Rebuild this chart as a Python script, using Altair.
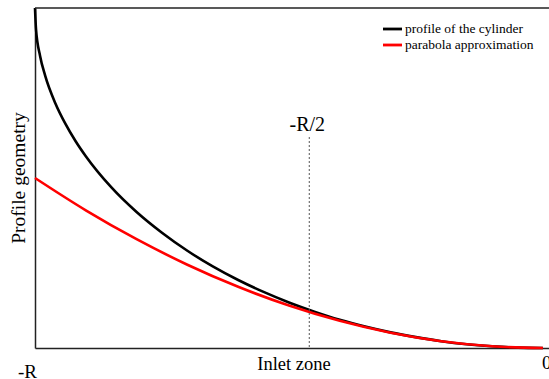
import altair as alt
import pandas as pd

# Profile of the cylinder (height above the lowest point, in units of R)
cyl_x = [-1.000, -0.998, -0.990, -0.980, -0.960, -0.940, -0.920, -0.900, -0.850,
         -0.800, -0.750, -0.700, -0.650, -0.600, -0.550, -0.500, -0.450, -0.400,
         -0.350, -0.300, -0.250, -0.200, -0.150, -0.100, -0.050, 0.000]
cyl_y = [1.000, 0.937, 0.859, 0.801, 0.720, 0.659, 0.608, 0.564, 0.473,
         0.400, 0.339, 0.286, 0.240, 0.200, 0.165, 0.134, 0.107, 0.083,
         0.063, 0.046, 0.032, 0.020, 0.011, 0.005, 0.001, 0.000]

# Parabola approximation of the same profile
par_x = [-1.0, -0.9, -0.8, -0.7, -0.6, -0.5, -0.4, -0.3, -0.2, -0.1, 0.0]
par_y = [0.500, 0.405, 0.320, 0.245, 0.180, 0.125, 0.080, 0.045, 0.020, 0.005, 0.000]

series_names = ["profile of the cylinder", "parabola approximation"]
series_colors = ["#000000", "#ff0000"]

# x-axis annotations
tick_text = ["-R", "Inlet zone", "0"]
tick_pos = [-1.0, -0.49, 0.0]
marker_pos = -0.46
marker_text = "-R/2"

W, H = 514, 340
FONT = "Liberation Serif"

xs = alt.Scale(domain=[-1.0, 0.012], nice=False, zero=False)
ys = alt.Scale(domain=[0.0, 1.0], nice=False, zero=False)

cyl = pd.DataFrame({"x": cyl_x, "y": cyl_y})
par = pd.DataFrame({"x": par_x, "y": par_y})

line_cyl = alt.Chart(cyl).mark_line(color=series_colors[0], strokeWidth=2.6,
                                    interpolate="monotone").encode(
    x=alt.X("x:Q", scale=xs, axis=alt.Axis(domain=True, ticks=False, labels=False,
                                           grid=False, title=None)),
    y=alt.Y("y:Q", scale=ys, axis=alt.Axis(domain=True, ticks=False, labels=False,
                                           grid=False, title=None)),
)
line_par = alt.Chart(par).mark_line(color=series_colors[1], strokeWidth=2.6,
                                    interpolate="monotone").encode(
    x=alt.X("x:Q", scale=xs), y=alt.Y("y:Q", scale=ys))

one = pd.DataFrame({"k": [0]})

top_line = alt.Chart(one).mark_rule(color="#222222", strokeWidth=1.5).encode(
    x=alt.value(0), x2=alt.value(W), y=alt.value(0))

marker = alt.Chart(pd.DataFrame({"x": [marker_pos]})).mark_rule(
    color="#555555", strokeWidth=1, strokeDash=[2, 2]).encode(
    x=alt.X("x:Q", scale=xs), y=alt.value(129), y2=alt.value(H))

marker_label = alt.Chart(pd.DataFrame({"x": [marker_pos], "t": [marker_text]})).mark_text(
    font=FONT, fontSize=20, baseline="alphabetic", align="center", dx=-2).encode(
    x=alt.X("x:Q", scale=xs), y=alt.value(123), text="t:N")

ticks_df = pd.DataFrame({"x": tick_pos, "t": tick_text})
tick_left = alt.Chart(ticks_df.iloc[[0]]).mark_text(
    font=FONT, fontSize=19, baseline="alphabetic", align="right", dx=2).encode(
    x=alt.X("x:Q", scale=xs), y=alt.value(370), text="t:N")
tick_mid = alt.Chart(ticks_df.iloc[[1]]).mark_text(
    font=FONT, fontSize=18.5, baseline="alphabetic", align="center").encode(
    x=alt.X("x:Q", scale=xs), y=alt.value(362), text="t:N")
tick_right = alt.Chart(ticks_df.iloc[[2]]).mark_text(
    font=FONT, fontSize=19, baseline="alphabetic", align="left", dx=-1).encode(
    x=alt.X("x:Q", scale=xs), y=alt.value(361), text="t:N")

y_title = alt.Chart(pd.DataFrame({"t": ["Profile geometry"]})).mark_text(
    font=FONT, fontSize=19.5, angle=270, baseline="alphabetic", align="center").encode(
    x=alt.value(-10), y=alt.value(H / 2), text="t:N")

# Legend drawn as short strokes with labels in the upper right corner
legend_layers = []
for i, (name, col) in enumerate(zip(series_names, series_colors)):
    row_y = 21 + 16 * i
    d = pd.DataFrame({"t": [name]})
    legend_layers.append(alt.Chart(d).mark_rule(color=col, strokeWidth=2.8).encode(
        x=alt.value(348), x2=alt.value(367), y=alt.value(row_y)))
    legend_layers.append(alt.Chart(d).mark_text(
        font=FONT, fontSize=13.5, baseline="middle", align="left").encode(
        x=alt.value(370), y=alt.value(row_y), text="t:N"))

chart = alt.layer(
    line_cyl, line_par, top_line, marker, marker_label,
    tick_left, tick_mid, tick_right, y_title, *legend_layers
).properties(
    width=W, height=H,
    autosize=alt.AutoSizeParams(type="none"),
    padding={"left": 35, "top": 8, "right": 0, "bottom": 31},
    background="white",
).configure_view(stroke=None).configure_axis(
    domainColor="#222222", domainWidth=1.5)

chart.save("out.html", embed_options={"renderer": "svg", "actions": False})
